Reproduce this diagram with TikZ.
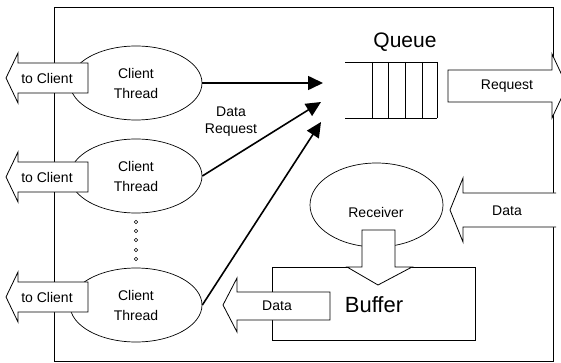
\documentclass[tikz,border=0pt]{standalone}
\usepackage{fontspec}
\setmainfont{Liberation Sans}
\usetikzlibrary{shapes.geometric,arrows.meta}

\begin{document}
\begin{tikzpicture}[x=1pt,y=-1pt,
  frame/.style={line width=1pt},
  thinline/.style={line width=0.8pt},
  thread/.style={draw, ellipse, line width=0.7pt, minimum width=132pt,
    minimum height=74pt, inner sep=0pt, align=center,
    font=\fontsize{14}{20}\selectfont},
  fat/.style={draw, fill=white, line width=0.8pt, line join=miter},
  lbl/.style={font=\fontsize{14}{17}\selectfont, inner sep=0pt},
  big/.style={font=\fontsize{21}{24}\selectfont, inner sep=0pt, anchor=base},
  req/.style={line width=1.6pt, -{Triangle[length=15pt,width=14pt]}},
  dot/.style={circle, draw, inner sep=0pt, minimum size=3.5pt, line width=0.6pt},
]
\useasboundingbox (0,0) rectangle (561,363);
\clip (0,0) rectangle (561,363);

% server frame
\draw[frame] (54,8) rectangle (553,361);

% client threads
\node[thread] (ct1) at (136,83) {Client\\Thread};
\node[thread] (ct2) at (136,176) {Client\\Thread};
\node[thread] (ct3) at (136,305) {Client\\Thread};
\foreach \y [count=\i] in {222,231,240,250,259}
  \node[dot] (dot\i) at (136,\y) {};

% request queue
\node[big] (qlabel) at (405,48) {Queue};
\draw[thinline] (345,62) -- (437,62) (345,118) -- (437,118);
\foreach \x in {372,388,405,422,437}
  \draw[thinline] (\x,62) -- (\x,118);
\coordinate (q1) at (323,83);
\coordinate (q2) at (321,102);
\coordinate (q3) at (321,122);

% data requests into the queue
\draw[req] (ct1.east) -- (q1);
\draw[req] (ct2.east) -- (q2);
\draw[req] (ct3.east) -- (q3);
\node[lbl, align=center, font=\fontsize{14}{17}\selectfont] (dreq) at (231,122) {Data\\Request};

% outgoing request
\draw[fat] (448,70) -- (552,70) -- (552,54) -- (567,86) -- (552,118) -- (552,102) -- (448,102) -- cycle;
\node[lbl, anchor=base] (reqlbl) at (507,90) {Request};

% receiver and buffer
\node[draw, ellipse, line width=0.7pt, minimum width=133pt, minimum height=84pt, inner sep=0pt] (recv) at (376.5,205) {};
\node[lbl, anchor=base] (recvlbl) at (376,217) {Receiver};
\node[draw, rectangle, thinline, minimum width=203pt, minimum height=73pt, anchor=north west, inner sep=0pt] (buf) at (272,267) {};
\node[big, font=\fontsize{22}{24}\selectfont] (buflbl) at (374,312) {Buffer};

% incoming data
\filldraw[fat] (556,193) -- (463,193) -- (463,178) -- (450,210) -- (463,242) -- (463,227) -- (556,227);
\node[lbl, anchor=base] (dinlbl) at (507,215) {Data};

% receiver into buffer
\draw[fat] (362,230) -- (395,230) -- (395,267) -- (412,267) -- (378,285) -- (347,267) -- (362,267) -- cycle;

% buffer out to threads
\draw[fat] (330,292) -- (237,292) -- (237,278) -- (223,305) -- (237,332) -- (237,320) -- (330,320) -- cycle;
\node[lbl, anchor=base] (doutlbl) at (277,310) {Data};

% replies to clients
\foreach \c [count=\i] in {78,177,297} {
  \draw[fat] (88,\c-15) -- (18,\c-15) -- (18,\c-25) -- (6,\c) -- (18,\c+25) -- (18,\c+15) -- (88,\c+15) -- cycle;
  \node[lbl] (tc\i) at (47,\c) {to Client};
}
\end{tikzpicture}
\end{document}
